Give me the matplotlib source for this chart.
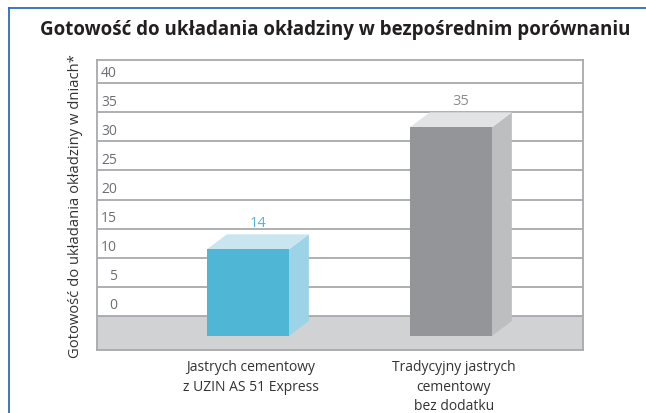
import matplotlib
matplotlib.use("Agg")
import matplotlib.pyplot as plt
from matplotlib.patches import Polygon, Rectangle
from matplotlib.lines import Line2D

plt.rcParams['font.family'] = ['Open Sans', 'DejaVu Sans']

# ---- data ----
title = "Gotowość do układania okładziny w bezpośrednim porównaniu"
ylabel = "Gotowość do układania okładziny w dniach*"
categories = ["Jastrych cementowy\nz UZIN AS 51 Express",
              "Tradycyjny jastrych\ncementowy\nbez dodatku"]
values = [14, 35]
yticks = [0, 5, 10, 15, 20, 25, 30, 35, 40]

front_colors = ["#4fb6d5", "#939598"]
side_colors = ["#9dd3e6", "#bcbec0"]
top_colors = ["#c9e6f0", "#e2e3e4"]
label_colors = ["#5ab4d6", "#8a8c8e"]

W, H = 646, 414
fig = plt.figure(figsize=(W / 100, H / 100), dpi=100)
L, R, T, B = 96.5, 583.3, 60.7, 350.7
ax = fig.add_axes([L / W, 1 - B / H, (R - L) / W, (B - T) / H])

ppu = 5.81  # pixels per value unit
floor_px = 316.7
ymax = (floor_px - T) / ppu
ymin = -(B - floor_px) / ppu
cw = 203.0  # px per category
x0 = 247.85
ax.set_xlim(-(x0 - L) / cw, (R - x0) / cw)
ax.set_ylim(ymin, ymax)

grid_c = "#a7a9ac"
for s in ax.spines.values():
    s.set_color(grid_c)
    s.set_linewidth(1.3)

# floor
ax.axhspan(ymin, 0, color="#d1d2d4", zorder=0, lw=0)
ax.set_yticks(yticks)
ax.yaxis.grid(True, color=grid_c, lw=1.3, zorder=1)
ax.tick_params(axis='y', length=0, labelleft=False)
ax.set_axisbelow(True)

for v in yticks:
    ax.text(0.042, v + 1.9, str(v), transform=ax.get_yaxis_transform(),
            ha='right', va='center', fontsize=10, color="#6d6e71")

# 3D bars
bw = 82.0 / cw
dx = 20.0 / cw
dy = 15.0 / ppu
front_bottom = -(337 - floor_px) / ppu
for i, v in enumerate(values):
    xl = i - bw / 2
    xr = i + bw / 2
    ft = v - dy
    ax.add_patch(Polygon([(xr, front_bottom), (xr + dx, front_bottom + dy),
                          (xr + dx, v), (xr, ft)], closed=True,
                         fc=side_colors[i], ec='none', zorder=3))
    ax.add_patch(Polygon([(xl, ft), (xl + dx, v), (xr + dx, v), (xr, ft)],
                         closed=True, fc=top_colors[i], ec='none', zorder=3))
    ax.add_patch(Rectangle((xl, front_bottom), bw, ft - front_bottom,
                           fc=front_colors[i], ec='none', zorder=4))
    ax.text(i + dx / 2, v + 2.0, str(v), ha='center', va='center',
            fontsize=10.5, color=label_colors[i], zorder=5)

ax.set_xticks([i + 3.0 / cw for i in range(len(categories))])
ax.set_xticklabels(categories, fontsize=10, color="#333333", linespacing=1.4,
                   va='top')
ax.tick_params(axis='x', length=0, pad=7)

ax.set_ylabel(ylabel, fontsize=10.6, color="#333333")
ax.yaxis.set_label_coords(-(L - 83) / (R - L), 0.5)

fig.text(335 / W, 1 - 30 / H, title, ha='center', va='center',
         fontsize=13.5, fontweight='bold', color="#231f20")

# blue frame (top and left)
bc = "#2a6ebb"
fig.add_artist(Line2D([9 / W, 9 / W], [0, 1 - 9 / H], color=bc, lw=1.3,
                      transform=fig.transFigure))
fig.add_artist(Line2D([9 / W, 1], [1 - 9 / H, 1 - 9 / H], color=bc, lw=1.3,
                      transform=fig.transFigure))

fig.savefig("out.png", dpi=100)
